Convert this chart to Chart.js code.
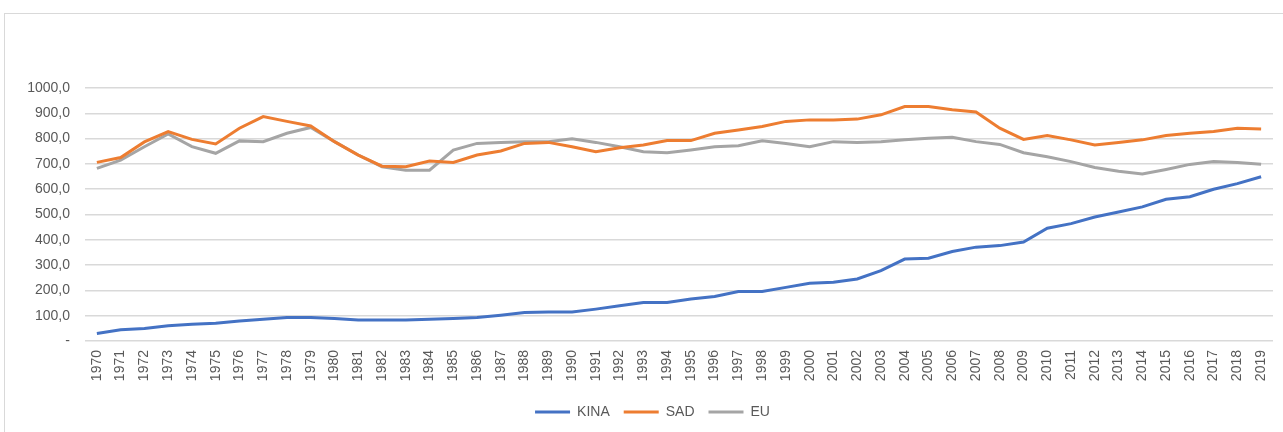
<!DOCTYPE html>
<html>
<head>
<meta charset="utf-8">
<script src="https://cdn.jsdelivr.net/npm/chart.js@4.4.1/dist/chart.umd.min.js"></script>
<style>
  html, body { margin: 0; padding: 0; background: #fff; overflow: hidden; }
  #frame { position: absolute; left: 4px; top: 13px; width: 1300px; height: 440px; border: 1px solid #d9d9d9; }
  #wrap { position: absolute; left: 0; top: 0; width: 1283px; height: 432px; }
</style>
</head>
<body>
<div id="frame"></div>
<div id="wrap"><canvas id="myChart"></canvas></div>
<script>
  const years = ['1970','1971','1972','1973','1974','1975','1976','1977','1978','1979',
    '1980','1981','1982','1983','1984','1985','1986','1987','1988','1989',
    '1990','1991','1992','1993','1994','1995','1996','1997','1998','1999',
    '2000','2001','2002','2003','2004','2005','2006','2007','2008','2009',
    '2010','2011','2012','2013','2014','2015','2016','2017','2018','2019']

  const kina = [30, 44, 49, 60, 66, 70, 79, 86, 93, 93,
    89, 83, 83, 83, 86, 89, 93, 102, 113, 115,
    115, 126, 139, 152, 152, 166, 176, 196, 196, 212,
    228, 232, 245, 278, 324, 327, 354, 371, 377, 391,
    446, 464, 490, 510, 530, 560, 570, 600, 622, 649]

  const sad = [706, 725, 787, 828, 797, 779, 841, 887, 868, 850,
    788, 735, 691, 689, 711, 706, 735, 751, 781, 785,
    768, 748, 764, 775, 792, 792, 821, 834, 848, 868,
    874, 874, 877, 894, 927, 927, 914, 905, 841, 797,
    812, 795, 775, 785, 795, 812, 821, 828, 841, 838]

  const eu = [682, 715, 768, 818, 768, 742, 791, 788, 821, 844,
    788, 735, 689, 675, 675, 755, 781, 785, 788, 788,
    799, 785, 768, 748, 744, 755, 768, 772, 791, 781,
    768, 788, 785, 788, 795, 801, 805, 788, 777, 744,
    728, 709, 686, 671, 660, 678, 698, 709, 706, 699]

  const yTicks = [0, 100, 200, 300, 400, 500, 600, 700, 800, 900, 1000]

  const fontFam = "'Liberation Sans', Arial, sans-serif"

  function series(label, data, color) {
    return {
      label: label, data: data,
      borderColor: color, backgroundColor: color,
      pointBorderColor: color, pointBackgroundColor: color,
      borderWidth: 3, pointBorderWidth: 3
    }
  }

  // the original legend sits a little right of the canvas centre
  const legendShift = {
    id: 'legendShift',
    afterLayout: (chart) => {
      chart.legend.left += 16
      chart.legend.right += 16
    }
  }

  let myChart = new Chart(document.getElementById('myChart'), {
    type: 'line',
    data: {
      labels: years,
      datasets: [
        series('KINA', kina, '#4472C4'),
        series('SAD', sad, '#ED7D31'),
        series('EU', eu, '#A5A5A5')
      ]
    },
    plugins: [legendShift],
    options: {
      responsive: true,
      maintainAspectRatio: false,
      animation: false,
      elements: {
        line: { tension: 0 },
        point: { radius: 0 }
      },
      layout: { padding: { left: 0, right: 10, top: 88, bottom: 3 } },
      scales: {
        x: {
          offset: true,
          grid: { display: false },
          border: { display: false },
          ticks: {
            autoSkip: false,
            minRotation: 90,
            maxRotation: 90,
            padding: 1,
            color: '#595959',
            font: { family: fontFam, size: 14 }
          },
          afterFit: (s) => { s.height = 50 }
        },
        y: {
          min: 0,
          max: 1000,
          afterBuildTicks: (s) => { s.ticks = yTicks.map(v => ({ value: v })) },
          grid: { color: '#d9d9d9', lineWidth: 1.5, drawTicks: false },
          border: { display: false },
          ticks: {
            padding: 15,
            color: '#595959',
            font: { family: fontFam, size: 14 },
            callback: (v) => v === 0 ? '-' : v.toFixed(1).replace('.', ',')
          },
          afterFit: (s) => { s.width = 85 }
        }
      },
      plugins: {
        title: { display: false },
        tooltip: { enabled: false },
        legend: {
          display: true,
          position: 'bottom',
          labels: {
            usePointStyle: true,
            pointStyle: 'line',
            pointStyleWidth: 35,
            padding: 14,
            color: '#595959',
            font: { family: fontFam, size: 14 }
          }
        }
      }
    }
  })
</script>
</body>
</html>
